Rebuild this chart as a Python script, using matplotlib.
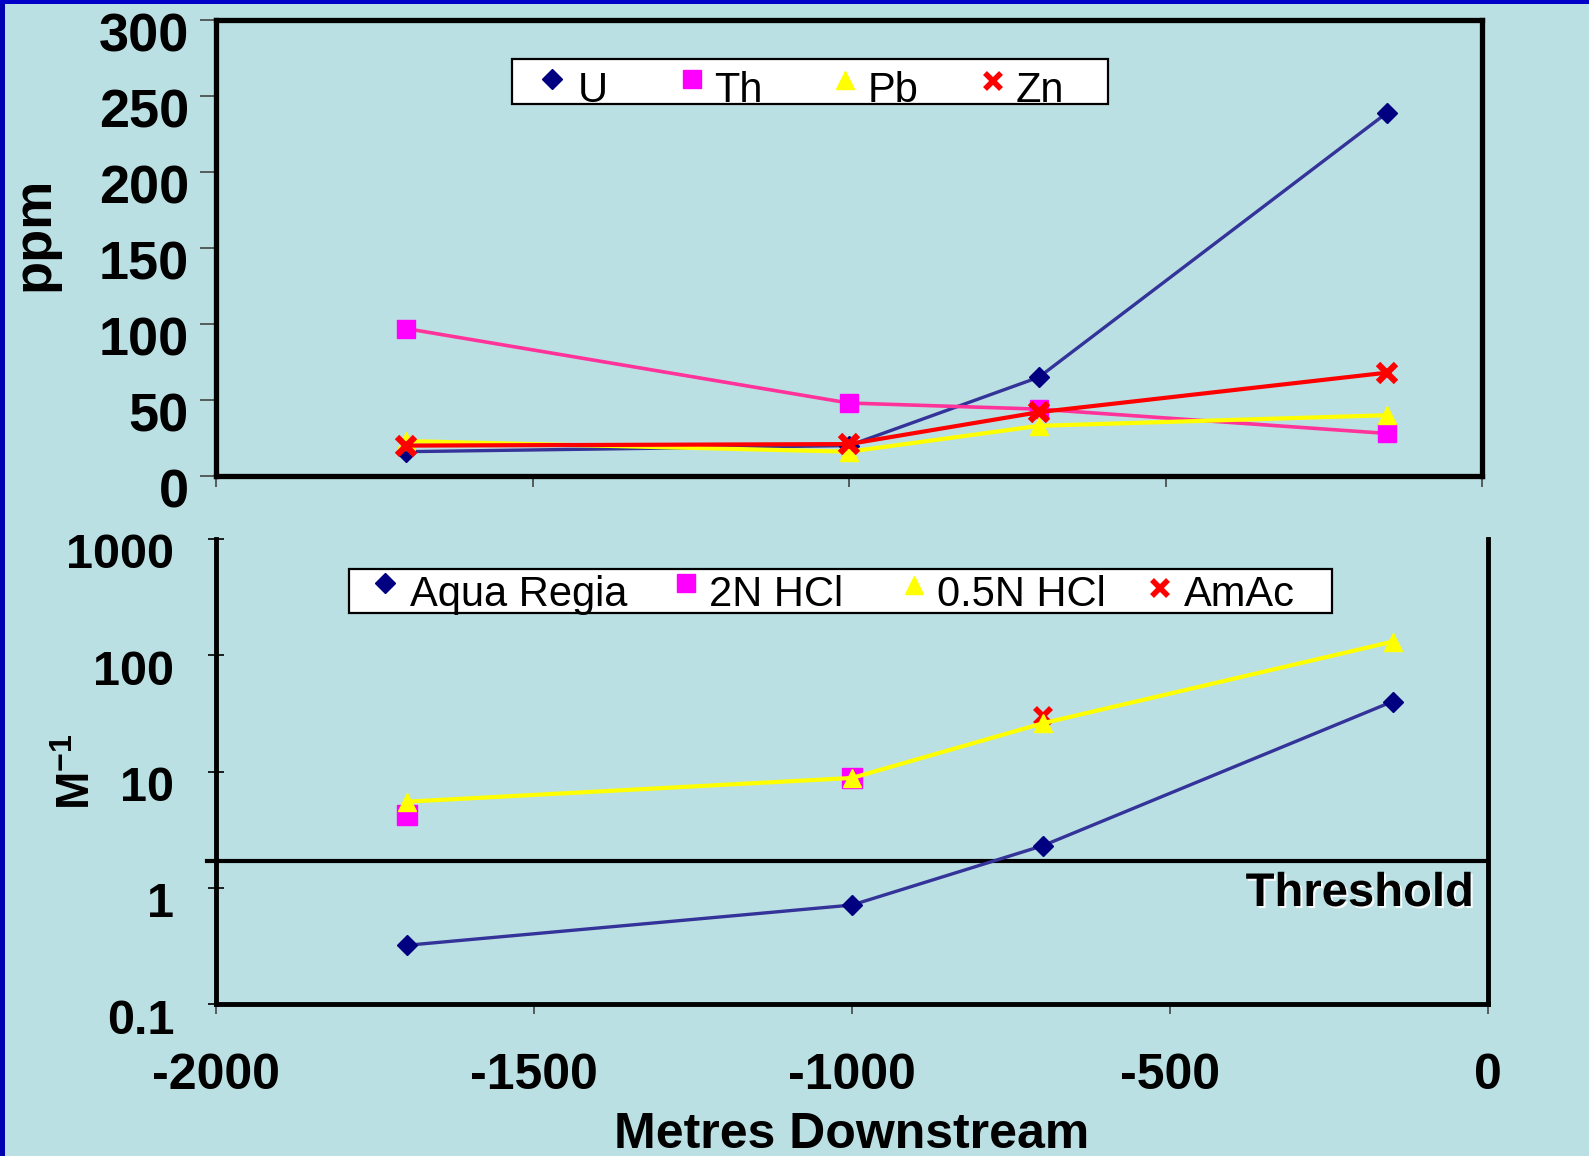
import matplotlib
matplotlib.use("Agg")
import matplotlib.pyplot as plt
from matplotlib.lines import Line2D
from matplotlib.patches import Rectangle
from matplotlib.transforms import ScaledTranslation
import matplotlib.patheffects as pe

plt.rcParams['font.family'] = ['Liberation Sans', 'DejaVu Sans']
plt.rcParams['mathtext.fontset'] = 'custom'
plt.rcParams['mathtext.bf'] = 'Liberation Sans:bold'
plt.rcParams['mathtext.rm'] = 'Liberation Sans:bold'

# ---------------- data ----------------
distance = [-1700, -1000, -700, -150]

# top panel (ppm)
u_ppm = [16, 20, 65, 239]
th_ppm = [97, 48, 44, 28]
pb_ppm = [23, 16, 33, 40]
zn_ppm = [20, 21, 42, 68]
top_labels = ['U', 'Th', 'Pb', 'Zn']

# bottom panel (M^-1)
aqua_regia = [0.32, 0.71, 2.3, 40]
hcl_2n_x = [-1700, -1000]
hcl_2n = [4.2, 8.8]
hcl_05n = [5.5, 8.8, 26, 131]
amac_x = [-700]
amac = [30]
bottom_labels = ['Aqua Regia', '2N HCl', '0.5N HCl', 'AmAc']
threshold = 1.7

x_ticks = [-2000, -1500, -1000, -500, 0]
top_yticks = [0, 50, 100, 150, 200, 250, 300]
bottom_yticks = [0.1, 1, 10, 100, 1000]
bottom_yticklabels = ['0.1', '1', '10', '100', '1000']

# ---------------- style ----------------
bg = '#BBE0E3'
navy = '#000080'
u_line = '#333399'
magenta = '#FF00FF'
pink_line = '#FF3399'
yellow = '#FFFF00'
red = '#FF0000'

marker_styles = [dict(marker='D', ms=10, color=navy),
                 dict(marker='s', ms=13, color=magenta),
                 dict(marker='^', ms=13, color=yellow),
                 dict(marker='x', ms=12, mew=4, color=red)]

W, H = 1589, 1156
fig = plt.figure(figsize=(W / 100, H / 100), dpi=100)
fig.patch.set_facecolor(bg)


def fx(px):
    return px / W


def fy(py):
    return 1 - py / H


# border strips
fig.patches.append(Rectangle((0, 0), 5 / W, 1, transform=fig.transFigure,
                             facecolor='#0000B0', edgecolor='none', zorder=10))
fig.patches.append(Rectangle((0, 1 - 4 / H), 1, 4 / H, transform=fig.transFigure,
                             facecolor='#0000C8', edgecolor='none', zorder=10))

# ---------------- top axes ----------------
ax1 = fig.add_axes([216 / W, 1 - 476 / H, 1266 / W, 456 / H])
ax1.set_facecolor(bg)
ax1.plot(distance, u_ppm, color=u_line, lw=2.4, marker='D', ms=10,
         mfc=navy, mec=navy, zorder=3)
ax1.plot(distance, th_ppm, color=pink_line, lw=2.6, marker='s', ms=13,
         mfc=magenta, mec=magenta, zorder=3)
ax1.plot(distance, pb_ppm, color=yellow, lw=3, marker='^', ms=13,
         mfc=yellow, mec=yellow, zorder=3)
ax1.plot(distance, zn_ppm, color=red, lw=3, marker='x', ms=13, mew=4.5,
         mfc=red, mec=red, zorder=3)
ax1.set_xlim(-2000, 0)
ax1.set_ylim(0, 300)
ax1.set_xticks(x_ticks)
ax1.set_xticklabels([])
ax1.set_yticks(top_yticks)
ax1.set_yticklabels([str(v) for v in top_yticks], fontsize=39, fontweight='bold')
for s in ax1.spines.values():
    s.set_linewidth(3.8)
    s.set_color('black')
ax1.tick_params(axis='y', direction='out', length=11.5, width=1.2, color='#444444', pad=8)
ax1.tick_params(axis='x', direction='out', length=8, width=1.2, color='#444444')
off = ScaledTranslation(0, -12 / 100, fig.dpi_scale_trans)
for lab in ax1.get_yticklabels():
    lab.set_transform(lab.get_transform() + off)

# ---------------- bottom axes ----------------
ax2 = fig.add_axes([216 / W, 1 - 1004 / H, 1272 / W, 465 / H])
ax2.set_facecolor(bg)
ax2.set_yscale('log')
ax2.plot(distance, aqua_regia, color=u_line, lw=2.4, marker='D', ms=10,
         mfc=navy, mec=navy, zorder=3)
ax2.plot(hcl_2n_x, hcl_2n, ls='none', marker='s', ms=14,
         mfc=magenta, mec=magenta, zorder=3)
ax2.plot(distance, hcl_05n, color=yellow, lw=3, marker='^', ms=13,
         mfc=yellow, mec=yellow, zorder=4)
ax2.plot(amac_x, amac, ls='none', marker='x', ms=12, mew=4,
         mfc=red, mec=red, zorder=3)
ax2.axhline(threshold, xmin=-0.007, xmax=1, color='black', lw=3, clip_on=False, zorder=2)
ax2.set_xlim(-2000, 0)
ax2.set_ylim(0.1, 1000)
ax2.set_xticks(x_ticks)
ax2.set_xticklabels([str(v) for v in x_ticks], fontsize=36, fontweight='bold')
ax2.set_yticks(bottom_yticks)
ax2.set_yticklabels(bottom_yticklabels, fontsize=35, fontweight='bold')
ax2.minorticks_off()
ax2.spines['top'].set_visible(False)
for k in ['left', 'right', 'bottom']:
    ax2.spines[k].set_linewidth(3.5)
    ax2.spines[k].set_color('black')
ax2.tick_params(axis='y', direction='inout', length=12, width=1.2, color='black', pad=24)
ax2.tick_params(axis='x', direction='out', length=7, width=1.2, color='#444444', pad=28)
for lab in ax2.get_yticklabels():
    lab.set_transform(lab.get_transform() + off)


# ---------------- legends (drawn by hand to match the boxes) ----------------
def draw_legend(box, labels, marker_xy, text_x, baseline):
    x0, y0, x1, y1 = box
    fig.add_artist(Rectangle((fx(x0), fy(y1)), fx(x1) - fx(x0), fy(y0) - fy(y1),
                             transform=fig.transFigure, facecolor='white',
                             edgecolor='black', lw=1.6, zorder=5))
    for lab, (mx, my), tx, st in zip(labels, marker_xy, text_x, marker_styles):
        fig.add_artist(Line2D([fx(mx)], [fy(my)], transform=fig.transFigure,
                              ls='none', zorder=6, **st))
        fig.text(fx(tx), fy(baseline), lab, fontsize=30, ha='left',
                 va='baseline', zorder=7)


draw_legend((512, 59, 1108, 104), top_labels,
            [(552, 79), (692, 79), (845, 80), (993, 81)],
            [578, 714, 868, 1016], 102)
draw_legend((349, 569, 1332, 613), bottom_labels,
            [(385, 583), (686, 583), (914, 585), (1160, 588)],
            [410, 709, 937, 1184], 606)

# ---------------- texts ----------------
fig.text(34 / W, 1 - 234 / H, 'ppm', rotation=90, fontsize=39, fontweight='bold',
         ha='center', va='center')
fig.text(78 / W, 1 - 772 / H, r'$\mathbf{M}^{\mathbf{-1}}$', rotation=90, fontsize=33,
         ha='center', va='center')
fig.text(852 / W, 1 - 1135 / H, 'Metres Downstream', fontsize=36, fontweight='bold',
         ha='center', va='center')
fig.text(1474 / W, 1 - 894 / H, 'Threshold', fontsize=34, fontweight='bold',
         ha='right', va='center',
         path_effects=[pe.withSimplePatchShadow(offset=(1.5, -1.5),
                                                shadow_rgbFace='white', alpha=0.9)])

fig.savefig('out.png', dpi=100, facecolor=bg)
